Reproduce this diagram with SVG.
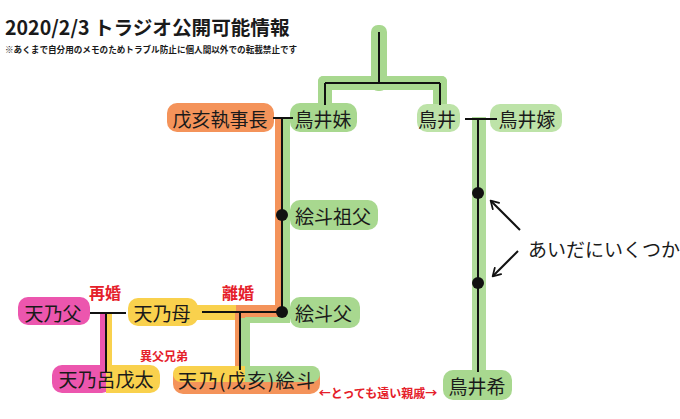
<svg xmlns="http://www.w3.org/2000/svg" width="680" height="419" viewBox="0 0 680 419">
<defs>
<style>
text{font-family:"Noto Sans CJK JP","Noto Sans",sans-serif;fill:#1a1a1a}
.t{font-size:19px;dominant-baseline:central}
.n{font-size:19px;dominant-baseline:central;text-anchor:middle}
.red{fill:#e5202a;font-weight:bold;text-anchor:middle;dominant-baseline:central}
.ln{stroke:#111;stroke-width:2;fill:none}
.g{fill:#a8d88f}
.pg{fill:#bde3a8}
.o{fill:#f4935a}
.p{fill:#ec56ae}
.y{fill:#f9d14d}
</style>
<marker id="ah" viewBox="0 0 10 10" refX="8" refY="5" markerWidth="10" markerHeight="10" orient="auto" markerUnits="userSpaceOnUse">
<path d="M1,0.5 L8.5,5 L1,9.5" fill="none" stroke="#111" stroke-width="1.8" stroke-linecap="round" stroke-linejoin="round"/>
</marker>
</defs>
<rect width="680" height="419" fill="#fff"/>
<text x="5" y="35" font-size="19.6" font-weight="bold">2020/2/3 トラジオ公開可能情報</text>
<text x="5" y="53" font-size="8.6" font-weight="bold">※あくまで自分用のメモのためトラブル防止に個人間以外での転載禁止です</text>

<g id="bands">
<rect class="g" x="371" y="25" width="16" height="66" rx="7"/>
<rect class="g" x="318" y="76" width="129" height="14" rx="6"/>
<rect class="g" x="318" y="76" width="14" height="36" rx="5"/>
<rect class="g" x="433" y="76" width="14" height="36" rx="5"/>
<rect class="o" x="275" y="117" width="8" height="200"/>
<rect class="g" x="282" y="117" width="8" height="200"/>
<rect class="y" x="190" y="305" width="50" height="15"/>
<rect class="o" x="236" y="305" width="47" height="13"/>
<rect class="g" x="245" y="317" width="45" height="6"/>
<rect class="o" x="235" y="312" width="6" height="60"/>
<rect class="g" x="240" y="318" width="10" height="54"/>
<rect class="p" x="100" y="313" width="6" height="58"/>
<rect class="y" x="106" y="313" width="6" height="58"/>
<rect fill="#b0dc9a" x="472" y="117" width="14" height="258"/>
</g>

<g id="n-inuikomatsu">
<rect class="o" x="167" y="103" width="107" height="29" rx="10"/>
<text class="n" x="220" y="118">戊亥執事長</text>
</g>
<g id="n-toriimai">
<rect class="g" x="290" y="103" width="67" height="29" rx="10"/>
<text class="n" x="323" y="118">鳥井妹</text>
</g>
<g id="n-torii">
<rect class="pg" x="417" y="104" width="43" height="28" rx="10"/>
<text class="n" x="437" y="118">鳥井</text>
</g>
<g id="n-toriiyome">
<rect class="pg" x="490" y="104" width="72" height="28" rx="10"/>
<text class="n" x="527" y="118">鳥井嫁</text>
</g>
<g id="n-esosofu">
<rect class="g" x="290" y="200" width="88" height="30" rx="10"/>
<text class="t" x="295" y="215">絵斗祖父</text>
</g>
<g id="n-esofu">
<rect class="g" x="290" y="297" width="70" height="31" rx="10"/>
<text class="t" x="295" y="312">絵斗父</text>
</g>
<g id="n-amanochichi">
<rect class="p" x="18" y="297" width="72" height="28" rx="10"/>
<text class="n" x="53" y="312">天乃父</text>
</g>
<g id="n-amanohaha">
<rect class="y" x="128" y="298" width="70" height="28" rx="10"/>
<text class="n" x="162" y="312">天乃母</text>
</g>
<g id="n-amanoroboro">
<rect class="p" x="52" y="365" width="60" height="28" rx="10"/>
<rect class="y" x="106" y="365" width="54" height="28" rx="10"/>
<rect class="y" x="106" y="365" width="20" height="28"/>
<text class="n" x="106" y="378">天乃呂戊太</text>
</g>
<g id="n-amanoeto">
<rect class="o" x="173" y="366" width="147" height="28" rx="10"/>
<rect class="y" x="173" y="366" width="80" height="16" rx="8"/>
<rect class="g" x="245" y="366" width="75" height="16" rx="8"/>
<rect class="g" x="245" y="366" width="10" height="16"/>
<text class="t" x="178" y="379" textLength="137" lengthAdjust="spacing">天乃(戊亥)絵斗</text>
</g>
<g id="n-toriinozomi">
<rect class="g" x="443" y="370" width="69" height="30" rx="10"/>
<text class="n" x="477" y="385">鳥井希</text>
</g>

<g id="connectors">
<path class="ln" d="M379,32 V83 M325,83 H440 M325,83 V105 M440,83 V105"/>
<path class="ln" d="M273,118 H293 M282,118 V312"/>
<path class="ln" d="M202,312 H282 M240,312 V370"/>
<path class="ln" d="M90,313 H126 M106,313 V372"/>
<path class="ln" d="M465,119 H497 M478,119 V372"/>
<circle cx="282" cy="215" r="6" fill="#111"/>
<circle cx="282" cy="312" r="6" fill="#111"/>
<circle cx="478" cy="193" r="6" fill="#111"/>
<circle cx="478" cy="283" r="6" fill="#111"/>
<path class="ln" d="M520,230 L491,201" marker-end="url(#ah)"/>
<path class="ln" d="M518,251 L493,276" marker-end="url(#ah)"/>
</g>

<text class="red" x="105" y="292" font-size="16">再婚</text>
<text class="red" x="238" y="292" font-size="16">離婚</text>
<text class="red" x="164" y="355" font-size="12">異父兄弟</text>
<text class="red" x="378" y="392" font-size="12">←とっても遠い親戚→</text>
<text class="t" x="528" y="248" font-size="20">あいだにいくつか</text>
</svg>
